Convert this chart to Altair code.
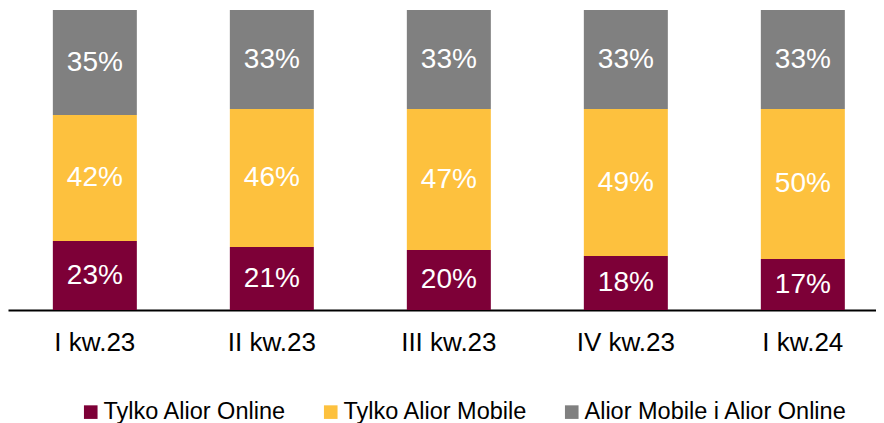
import altair as alt
import pandas as pd

quarters = ["I kw.23", "II kw.23", "III kw.23", "IV kw.23", "I kw.24"]
series = ["Tylko Alior Online", "Tylko Alior Mobile", "Alior Mobile i Alior Online"]
online_only = [23, 21, 20, 18, 17]
mobile_only = [42, 46, 47, 49, 50]
both = [35, 33, 33, 33, 33]
colors = ["#7D0037", "#FDC13E", "#808080"]

rows = []
for i, q in enumerate(quarters):
    for j, (s, vals) in enumerate(zip(series, [online_only, mobile_only, both])):
        rows.append({"kw": q, "series": s, "value": vals[i], "order": j})
df = pd.DataFrame(rows)

FONT = "Liberation Sans"

base = alt.Chart(df).transform_stack(
    stack="value", groupby=["kw"], as_=["y0", "y1"], sort=[alt.SortField("order")]
).transform_calculate(
    mid="(datum.y0 + datum.y1) / 2",
    lbl="datum.value + '%'",
)

x_enc = alt.X(
    "kw:N",
    sort=quarters,
    scale=alt.Scale(paddingInner=0.5254, paddingOuter=0.2147, align=0.59),
    axis=alt.Axis(
        title=None, labelAngle=0, ticks=False, labelFontSize=26, labelColor="black",
        labelFont=FONT, domainColor="black", domainWidth=2, labelPadding=19,
        grid=False,
    ),
)
y_scale = alt.Scale(domain=[0, 100], nice=False, zero=True)

bars = base.mark_bar().encode(
    x=x_enc,
    y=alt.Y("y0:Q", scale=y_scale, axis=None),
    y2="y1:Q",
    color=alt.Color(
        "series:N",
        sort=series,
        scale=alt.Scale(domain=series, range=colors),
        legend=alt.Legend(
            title=None, orient="none", direction="horizontal", legendX=71, legendY=390,
            symbolType="square", symbolSize=185, symbolStrokeWidth=0,
            labelFontSize=23.5, labelFont=FONT, labelColor="black", labelLimit=500,
            labelOffset=1, columnPadding=32, padding=0, columns=3,
        ),
    ),
)

labels = base.mark_text(color="white", fontSize=28, font=FONT, baseline="middle", align="center").encode(
    x=alt.X("kw:N", sort=quarters),
    y=alt.Y("mid:Q", scale=y_scale),
    text="lbl:N",
)

chart = alt.layer(bars, labels).properties(
    width=868, height=300,
    autosize=alt.AutoSizeParams(type="none"),
    padding={"left": 0, "top": 2, "right": 0, "bottom": 113},
).configure_view(stroke=None)

chart.save("out.html", embed_options={"renderer": "svg", "actions": False})
